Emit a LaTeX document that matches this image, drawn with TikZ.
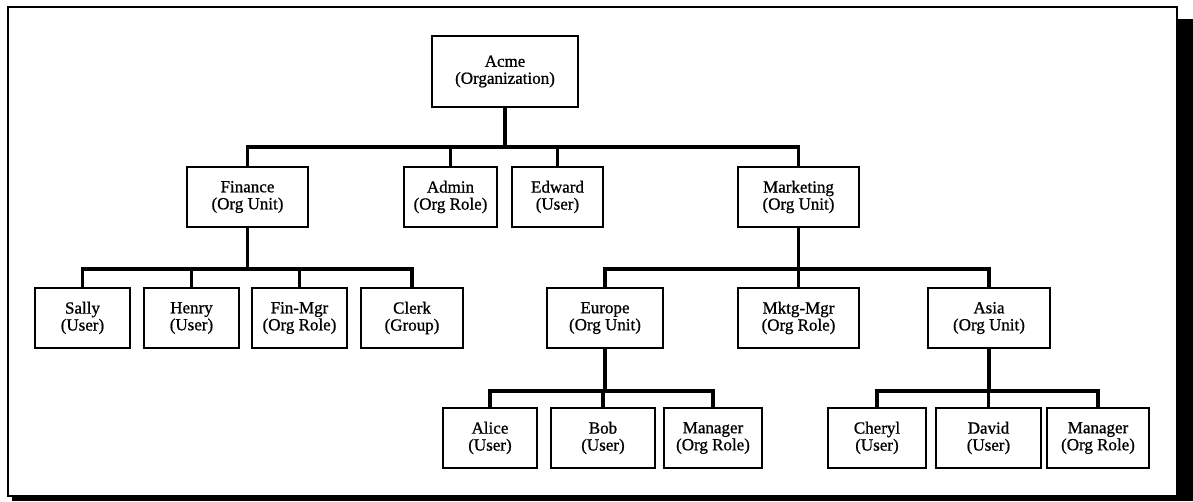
\documentclass[tikz,border=0pt]{standalone}
\usepackage{fontspec}
\setmainfont{Liberation Serif}
\newfontfamily\boxfont[FakeBold=0.9]{Liberation Serif}
\begin{document}
\begin{tikzpicture}[x=1pt,y=-1pt,
  orgbox/.style={draw, line width=1.7pt, minimum height=60pt, align=center, inner sep=0pt,
    font=\boxfont\fontsize{17}{17}\selectfont},
  conn/.style={line width=3.4pt, line join=miter}]
\useasboundingbox (0,0) rectangle (1193,501);
% frame and shadow
\fill[black] (1177,19) rectangle (1193,501);
\fill[black] (12,496) rectangle (1193,501);
\draw[line width=1.8pt] (8,7) rectangle (1177,496);
% bar levels
\coordinate (b1) at (0,147);
\coordinate (b2) at (0,269);
\coordinate (b3) at (0,391);
% nodes
\node[orgbox, minimum width=146pt, minimum height=71pt] (acme) at (505,71.5) {Acme\\(Organization)};
\node[orgbox, minimum width=121pt] (fin) at (247.5,197) {Finance\\(Org Unit)};
\node[orgbox, minimum width=93pt] (admin) at (450.5,197) {Admin\\(Org Role)};
\node[orgbox, minimum width=91pt] (edward) at (557.5,197) {Edward\\(User)};
\node[orgbox, minimum width=121pt] (mkt) at (798.5,197) {Marketing\\(Org Unit)};
\node[orgbox, minimum width=95pt] (sally) at (82.5,318) {Sally\\(User)};
\node[orgbox, minimum width=95pt] (henry) at (191.5,318) {Henry\\(User)};
\node[orgbox, minimum width=95pt] (finmgr) at (299.5,318) {Fin-Mgr\\(Org Role)};
\node[orgbox, minimum width=102pt] (clerk) at (412,318) {Clerk\\(Group)};
\node[orgbox, minimum width=116pt] (europe) at (605,318) {Europe\\(Org Unit)};
\node[orgbox, minimum width=121pt] (mktgmgr) at (798.5,318) {Mktg-Mgr\\(Org Role)};
\node[orgbox, minimum width=122pt] (asia) at (989,318) {Asia\\(Org Unit)};
\node[orgbox, minimum width=94pt] (alice) at (490,438) {Alice\\(User)};
\node[orgbox, minimum width=104pt] (bob) at (603,438) {Bob\\(User)};
\node[orgbox, minimum width=98pt] (emgr) at (713,438) {Manager\\(Org Role)};
\node[orgbox, minimum width=98pt] (cheryl) at (877,438) {Cheryl\\(User)};
\node[orgbox, minimum width=105pt] (david) at (988.5,438) {David\\(User)};
\node[orgbox, minimum width=102pt] (amgr) at (1098,438) {Manager\\(Org Role)};
% connectors
\foreach \c in {fin,admin,edward,mkt}
  \draw[conn] (acme.south) -- (acme.south |- b1) -| (\c.north);
\foreach \c in {sally,henry,finmgr,clerk}
  \draw[conn] (fin.south) -- (fin.south |- b2) -| (\c.north);
\foreach \c in {europe,mktgmgr,asia}
  \draw[conn] (mkt.south) -- (mkt.south |- b2) -| (\c.north);
\foreach \c in {alice,bob,emgr}
  \draw[conn] (europe.south) -- (europe.south |- b3) -| (\c.north);
\foreach \c in {cheryl,david,amgr}
  \draw[conn] (asia.south) -- (asia.south |- b3) -| (\c.north);
\end{tikzpicture}
\end{document}
